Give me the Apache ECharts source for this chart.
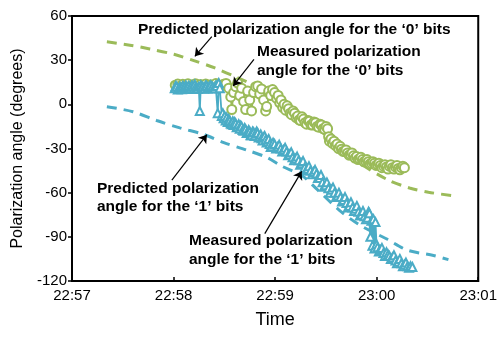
<!DOCTYPE html>
<html>
<head>
<meta charset="utf-8">
<script src="https://cdn.jsdelivr.net/npm/echarts@6/dist/echarts.min.js"></script>
<style>
html,body{margin:0;padding:0;background:#fff;}
#chart{width:500px;height:344px;}
</style>
</head>
<body>
<div id="chart"></div>
<script>
// Time is in seconds after 22:57:00; angles in degrees.
const xTickLabels = ['22:57', '22:58', '22:59', '23:00', '23:01'];

// Predicted polarization angle, '0' bits (green dashed)
const pred0Time  = [20.6, 34.2, 46, 60.2, 72, 84.4, 96.8, 111, 124, 134.5, 146, 158, 170, 187, 199.4, 210.6, 224.8];
const pred0Angle = [42.5, 40.2, 37.6, 34, 29.7, 24.7, 18.6, 11, 2, -6, -17, -29, -40, -51.5, -56.8, -59.7, -62];

// Predicted polarization angle, '1' bits (blue dashed)
const pred1Time  = [20.6, 36, 50, 63.7, 78, 89.7, 103, 115, 124, 136, 145, 158, 170, 186, 198, 213.6, 222.4];
const pred1Angle = [-1.6, -5, -11, -16, -20.5, -26, -31, -36, -42, -48.5, -58, -72, -82, -91.5, -99, -102.7, -105.5];

// Measured polarization angle, '0' bits (green circles)
const meas0Time = [61, 62.5, 64, 65.5, 67, 68.5, 70, 71.5, 73, 74.5, 76, 77.5, 79, 80.5, 82, 83.5, 85, 86.5, 88, 89.5, 91,
  92.6, 93.8, 94.4, 95.5, 96.7, 97.9, 99.1, 100.2, 101.4, 102.6, 103.8, 105, 106.1, 107.3, 108.5, 109.7, 110.9, 112, 113.2,
  114.4, 115, 116.2, 117.4, 118.5, 119.7,
  120.9, 121.8, 122.7, 123.5, 124.4, 125.3, 126.2, 127.1, 128, 128.9, 129.7, 130.6, 131.5, 132.4, 133.3, 134.2, 135, 135.9,
  136.8, 137.7, 138.6, 139.5, 140.3, 141.2, 142.1, 143, 143.9, 144.8, 145.7, 146.6, 147.4, 148.3, 149.2, 150.1, 151,
  151.6, 152.1, 153, 153.9, 154.8, 155.7, 156.6, 157.5, 158.4, 159.2, 160.1, 161, 161.9, 162.8, 163.7, 164.5, 165.4,
  166.3, 167.2, 168.1, 169, 169.8, 170.7, 171.6, 172.5, 173.4, 174.3, 175.1, 176, 176.9, 177.8, 178.7, 179.6, 180.5,
  181.3, 182.2, 183.1, 184, 184.9, 185.8, 186.7, 187.5, 188.4, 189.3, 190.2, 191.1, 192, 192.8, 193.7, 194.6, 195.5, 196.4];
const meas0Angle = [13, 13.8, 12.5, 13.6, 12.8, 13.9, 12.4, 13.2, 14, 12.6, 13.5, 12.2, 13.8, 12.9, 13.3, 12.5, 14.1, 13, 12.7, 13.6, 14.2,
  11, 5, -3.5, 8, 12, 14.5, 6, 11, 2, -3.5, 9, 3, -4.5, 8, 12, 12.5, 7, 10.5, 3,
  -4.5, -1.5, 9, 6, 10, 8,
  4, 6, 1, 3, -2, 0, -4, -1, -3, -6, -7, -4.5, -6, -9, -8, -10.5, -11, -8.5,
  -10, -12.5, -13.5, -11, -11.5, -14, -14, -12, -12.5, -15, -15.5, -13.5, -14, -16.5, -17, -15, -16.5,
  -22, -25, -23.5, -26.5, -25, -28, -27, -30, -28.5, -30.5, -32, -32, -31, -33, -34.5, -34, -33,
  -35, -36.5, -35.5, -37.5, -37, -36, -37.5, -39, -38.5, -37.5, -39, -40.5, -40, -39, -40, -41.5, -41,
  -40, -41.5, -43, -42, -41, -42.5, -44, -42, -41, -43, -44, -42.5, -41.5, -43.5, -44.5, -43, -42, -43];

// Measured polarization angle, '1' bits (blue triangles)
const meas1Time = [60.7, 61.3, 61.9, 62.5, 63.1, 63.7, 64.3, 64.9, 65.5, 66.1, 66.6, 67.2, 67.8, 68.4, 69, 69.6, 70.2,
  70.8, 71.4, 72, 72.5, 73.1, 73.7, 74.3, 74.9, 75.5, 76.1, 76.7, 77.3, 77.9, 78.4, 79, 79.6, 80.2, 80.8, 81.4, 82, 82.6,
  83.1, 83.7, 84.3, 84.9, 85.5, 86.1, 86.7, 87.3,
  88.5, 89.1, 89.6, 90.2, 90.8, 91.4, 92, 92.6, 93.2, 93.8, 94.4, 95, 95.5, 96.1, 96.7, 97.3, 97.9, 98.5, 99.1, 99.6,
  100.2, 100.8, 101.4, 102, 102.6, 103.2, 103.8, 104.4, 105, 105.5, 106.1, 106.7, 107.3, 107.9, 108.5, 109.1, 109.7,
  110.3, 110.9, 111.5, 112, 112.6, 113.2, 113.8, 114.4, 115, 115.6, 116.2, 116.8, 117.4, 117.9, 118.8, 119.7, 120.6,
  121.5, 122.4, 123.3, 124.2, 125, 125.9, 126.8, 127.7, 128.6, 129.5, 130.3, 131.2, 132.1, 133, 133.9, 134.8, 135.6,
  136.5, 137.4, 138.3, 139.2, 140, 140.9, 141.8, 142.7, 143.6, 144.5, 145.3, 146.2, 147.1, 148, 148.9, 149.8, 150.6,
  151.5, 152.4, 153.3, 154.2, 155.1, 156, 156.9, 157.7, 158.6, 159.5, 160.4, 161.3, 162.2, 163, 163.9, 164.8, 165.7,
  166.6, 167.5, 168.3, 169.2, 170.1, 171, 171.9, 172.8, 173.7, 174.6, 175.2, 175.7, 176.3, 176.9, 177.5, 178.1, 178.7,
  179.3, 179.9, 180.5, 181.3, 182.2, 183.1, 184, 184.9, 185.8, 186.7, 187.5, 188.4, 189.3, 190.2, 191.1, 192, 192.8,
  193.7, 194.6, 195.5, 196.4, 197.3, 198.2, 199.1, 200, 201.1];
const meas1Angle = [11, 12.5, 12, 10, 10.5, 12, 11.5, 10.2, 12.5, 11.5, 10.8, 12.8, 11.8, 10.5, 12.6, 11.3, 11,
  13, 12, 10.6, 13.5, 12, 11.2, 10.5, 12, -4.5, 13, 11.8, 12, 10.6, 11, 12.8, 12.5, 10.8, 11.5, 12.5, 13, 11.2,
  12, 10.8, 11, 12.6, 12.5, -6, 14.5, 11,
  -8, -6, -9.5, -8, -11, -9, -12, -10, -11, -13, -13.5, -11.5, -14, -12, -13, -15.5, -15, -13.5, -16.5, -14.5,
  -15, -17.5, -18, -16, -17, -19.5, -19, -17.5, -18.5, -21, -21, -18.5, -19, -21.5, -20, -18.5, -19.5,
  -22.5, -22, -20.5, -23, -24.5, -22.5, -21.5, -24, -26, -25, -23.5, -27, -29, -28.5, -26, -27, -30,
  -29, -27.5, -30, -32, -31, -29.5, -32, -34.5, -34, -32.5, -36, -38, -37, -35.5, -38, -41, -40,
  -38.5, -43, -45, -44, -42, -45, -47.5, -46, -44.5, -47, -50, -50, -48, -53, -56, -55, -53,
  -57, -60, -58, -56.5, -60, -63, -62, -60, -63, -66, -65, -63, -67, -70, -69, -66.5, -70,
  -72.5, -71, -69, -73, -75.5, -75, -72.5, -76, -78, -77, -73, -74, -90, -79, -96, -78, -98,
  -80, -95, -97, -100, -99, -97.5, -101, -103, -100.5, -102, -103, -105, -104, -102.5, -106, -108, -107,
  -105, -108, -110, -109, -107.5, -110, -111, -110, -110.5];

const zip = (a, b) => a.map((t, i) => [t, b[i]]);

const GREEN = '#9bbb59';
const BLUE = '#4bacc6';
const FONT = '"Liberation Sans", Arial, sans-serif';

// Annotation arrows: [fromTime, fromAngle, toTime, toAngle]
const arrows = [
  [82.6, 46, 72.6, 32.6],
  [107.5, 30.5, 95.2, 12.5],
  [59, -51.5, 79.7, -20.6],
  [113.9, -87.8, 135.7, -45.5]
];

const chart = echarts.init(document.getElementById('chart'), null, {renderer: 'canvas'});

const txt = (text, x, y) => ({
  type: 'text', x: x, y: y, z: 100,
  style: {text: text, font: 'bold 15.5px ' + FONT, fill: '#000', align: 'left', verticalAlign: 'middle'}
});

chart.setOption({
  animation: false,
  backgroundColor: '#fff',
  grid: {left: 72, right: 21, top: 16, bottom: 63, show: true, borderColor: '#000', borderWidth: 2, backgroundColor: 'transparent'},
  xAxis: {
    type: 'value', min: 0, max: 240, interval: 60,
    name: 'Time', nameLocation: 'middle', nameGap: 30,
    nameTextStyle: {fontSize: 18, color: '#000', fontFamily: FONT},
    axisLine: {onZero: false, lineStyle: {color: '#000', width: 2}},
    axisTick: {inside: true, length: 4, lineStyle: {color: '#000', width: 1.5}},
    axisLabel: {fontSize: 15, color: '#000', fontFamily: FONT, margin: 7,
      formatter: v => xTickLabels[Math.round(v / 60)]},
    splitLine: {show: false}
  },
  yAxis: {
    type: 'value', min: -120, max: 60, interval: 30,
    name: 'Polarization angle (degrees)', nameLocation: 'middle', nameGap: 44,
    nameTextStyle: {fontSize: 16, color: '#000', fontFamily: FONT},
    axisLine: {onZero: false, lineStyle: {color: '#000', width: 2}},
    axisTick: {inside: false, length: 4, lineStyle: {color: '#000', width: 1.5}},
    axisLabel: {fontSize: 15, color: '#000', fontFamily: FONT, margin: 5},
    splitLine: {show: false}
  },
  series: [
    {
      type: 'line', data: zip(pred0Time, pred0Angle), smooth: 0.3, symbol: 'none',
      lineStyle: {color: GREEN, width: 3, type: [10, 7]}, z: 2
    },
    {
      type: 'line', data: zip(pred1Time, pred1Angle), smooth: 0.3, symbol: 'none',
      lineStyle: {color: BLUE, width: 3, type: [10, 7]}, z: 2,
      markLine: {
        silent: true, symbol: ['none', 'arrow'], symbolSize: 8,
        lineStyle: {color: '#000', width: 1.2, type: 'solid'},
        label: {show: false},
        data: arrows.map(a => [{coord: [a[0], a[1]]}, {coord: [a[2], a[3]]}])
      }
    },
    {
      type: 'line', data: zip(meas0Time, meas0Angle), symbol: 'emptyCircle', symbolSize: 9, showAllSymbol: true,
      lineStyle: {color: GREEN, width: 1.8}, itemStyle: {color: GREEN, borderWidth: 1.5}, z: 3
    },
    {
      type: 'line', data: zip(meas1Time, meas1Angle), symbol: 'emptyTriangle', symbolSize: 8, showAllSymbol: true,
      lineStyle: {color: BLUE, width: 1.8}, itemStyle: {color: BLUE, borderWidth: 1.5}, z: 4
    }
  ],
  graphic: [
    txt('Predicted polarization angle for the \u20180\u2019 bits', 138, 30),
    txt('Measured polarization', 257, 52),
    txt('angle for the \u20180\u2019 bits', 257, 71),
    txt('Predicted polarization', 97, 188.5),
    txt('angle for the \u20181\u2019 bits', 97, 207),
    txt('Measured polarization', 189, 241),
    txt('angle for the \u20181\u2019 bits', 189, 259.5)
  ]
});
</script>
</body>
</html>
